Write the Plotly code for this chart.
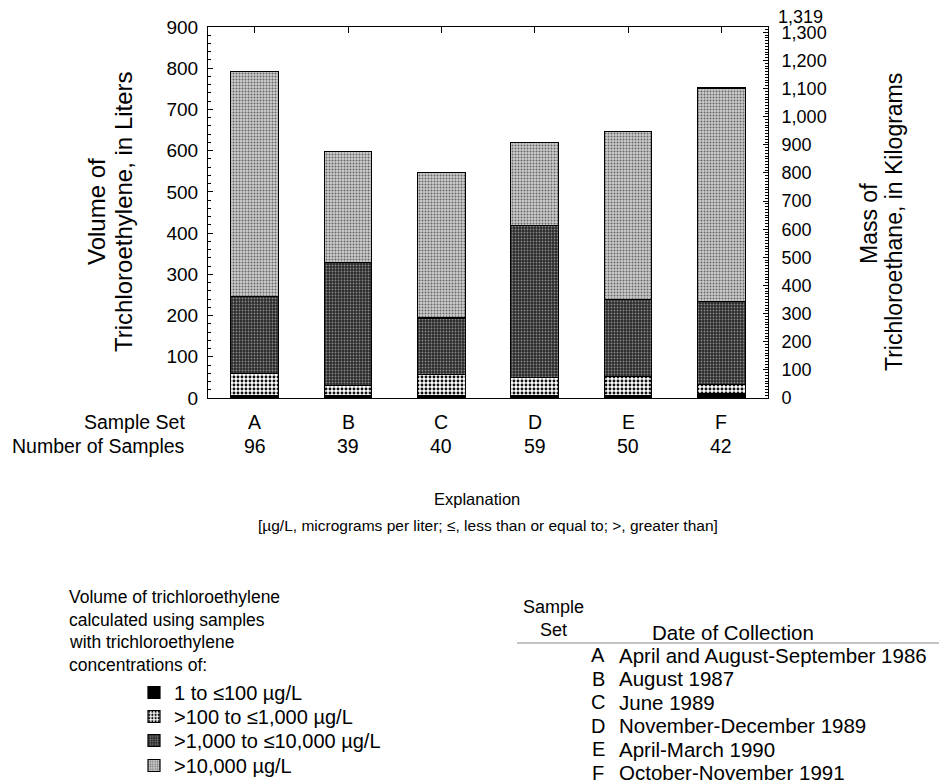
import plotly.graph_objects as go

# ---- data ----
sample_sets = ["A", "B", "C", "D", "E", "F"]
num_samples = [96, 39, 40, 59, 50, 42]
seg_names = ["1 to ≤100 µg/L", ">100 to ≤1,000 µg/L", ">1,000 to ≤10,000 µg/L", ">10,000 µg/L"]
vol_1_100 = [6, 5, 5, 6, 6, 11]
vol_100_1000 = [54, 25, 52, 44, 47, 21]
vol_1000_10000 = [186, 298, 137, 369, 186, 203]
vol_gt_10000 = [547, 270, 353, 200, 407, 517]
density_kg_per_l = 1.4656  # TCE density, links right axis (mass) to left axis (volume)
left_max = 900
dates = ["April and August-September 1986", "August 1987", "June 1989",
         "November-December 1989", "April-March 1990", "October-November 1991"]

FONT = "Liberation Sans, Arial, sans-serif"
OFF = 8                      # page body margin of the html page
W, H = 947 - OFF, 784 - OFF  # figure size so it fits in the window
# plot frame in page pixels
PL, PR, PT, PB = 208, 768, 27, 398


def px(x):
    return (x - PL) / (PR - PL)


def py(y):
    return (PB - y) / (PB - PT)


styles = [
    dict(shape="", fg="black", bg="black", size=4, sol=0.5),
    dict(shape=".", fg="#111111", bg="#ffffff", size=4, sol=0.42),
    dict(shape=".", fg="#8a8a8a", bg="#2a2a2a", size=3, sol=0.3),
    dict(shape=".", fg="#666666", bg="#cdcdcd", size=3, sol=0.35),
]
series = [vol_1_100, vol_100_1000, vol_1000_10000, vol_gt_10000]
legend_ids = ["legend", "legend2", "legend3", "legend4"]
legend_rows = [693, 717, 741, 766]

fig = go.Figure()
for name, vals, st, lg in zip(seg_names, series, styles, legend_ids):
    fig.add_trace(go.Bar(
        x=sample_sets, y=vals, name=name, legend=lg,
        marker=dict(
            color=st["bg"],
            line=dict(color="black", width=1.2),
            pattern=dict(shape=st["shape"], fgcolor=st["fg"], bgcolor=st["bg"],
                         size=st["size"], solidity=st["sol"], fillmode="replace"),
        ),
        width=0.51,
    ))

totals = [a + b + c + d for a, b, c, d in zip(*series)]
mass_totals = [t * density_kg_per_l for t in totals]
for ya in ["y2", "y3"]:
    fig.add_trace(go.Scatter(x=sample_sets, y=mass_totals, xaxis="x2", yaxis=ya,
                             mode="none", showlegend=False, hoverinfo="skip"))

top_mass = round(left_max * density_kg_per_l)
mass_range = [0, left_max * density_kg_per_l]

legends = {}
for lg, row in zip(legend_ids, legend_rows):
    legends[lg] = dict(x=px(134), y=py(row - 20), xanchor="left", yanchor="top",
                       font=dict(size=20, family=FONT), bgcolor="rgba(0,0,0,0)",
                       itemwidth=30)

right_common = dict(range=mass_range, overlaying="y", side="right", anchor="x2",
                    showgrid=False, zeroline=False, ticklabelstandoff=9,
                    ticks="inside", ticklen=5, tickcolor="black",
                    ticklabeloverflow="allow", tickfont=dict(size=18),
                    automargin=False)

fig.update_layout(
    width=W, height=H,
    margin=dict(l=PL - OFF, r=W - (PR - OFF), t=PT - OFF, b=H - (PB - OFF), autoexpand=False),
    paper_bgcolor="white", plot_bgcolor="white",
    barmode="stack",
    font=dict(family=FONT, size=18, color="black"),
    showlegend=True,
    **legends,
    xaxis=dict(type="category", categoryarray=sample_sets, range=[-0.5, 5.5],
               showline=True, linecolor="black", linewidth=1, mirror=True,
               ticks="", showticklabels=False, showgrid=False, zeroline=False,
               automargin=False),
    xaxis2=dict(type="category", categoryarray=sample_sets, range=[-0.5, 5.5],
                overlaying="x", side="top", anchor="y2",
                ticks="inside", ticklen=6, tickcolor="black",
                showticklabels=False, showgrid=False, zeroline=False, showline=False,
                automargin=False),
    yaxis=dict(range=[0, left_max], dtick=100, tick0=0,
               showline=True, linecolor="black", linewidth=1,
               ticks="inside", ticklen=5, tickcolor="black",
               minor=dict(ticks="inside", dtick=20, tick0=0, ticklen=3, tickcolor="black"),
               showgrid=False, zeroline=False, ticklabelstandoff=5,
               tickfont=dict(size=19), automargin=False),
    yaxis2=dict(**right_common, tickmode="linear", tick0=0, dtick=100, tickformat=",d",
                showline=True, linecolor="black", linewidth=1,
                minor=dict(tickmode="linear", ticks="inside", dtick=10, tick0=0,
                           ticklen=3, tickcolor="black")),
    yaxis3=dict(**right_common, tickmode="array", tickvals=[top_mass],
                ticktext=[f"{top_mass:,}"], showline=False, ticklabelshift=-10),
)

ann = []
# axis titles
ann.append(dict(text="Volume of", x=px(96), y=py(212), textangle=-90, font=dict(size=24)))
ann.append(dict(text="Trichloroethylene, in Liters", x=px(123), y=py(212),
                textangle=-90, font=dict(size=24)))
ann.append(dict(text="Mass of", x=px(869), y=py(224), textangle=-90, font=dict(size=23)))
ann.append(dict(text="Trichloroethane, in Kilograms", x=px(894), y=py(222),
                textangle=-90, font=dict(size=23)))
# row labels
ann.append(dict(text="Sample Set", x=px(187), y=py(422), xanchor="right", font=dict(size=19.5)))
ann.append(dict(text="Number of Samples", x=px(187), y=py(446), xanchor="right", font=dict(size=19.5)))
for s, n in zip(sample_sets, num_samples):
    ann.append(dict(text=s, x=s, xref="x", y=py(422), font=dict(size=19.5)))
    ann.append(dict(text=str(n), x=s, xref="x", y=py(446), font=dict(size=19.5)))
# explanation
ann.append(dict(text="Explanation", x=px(477), y=py(499), font=dict(size=16.5)))
ann.append(dict(text="[µg/L, micrograms per liter; ≤, less than or equal to; >, greater than]",
                x=px(488), y=py(525), font=dict(size=15.5)))
left_lines = ["Volume of trichloroethylene", "calculated using samples",
              "with trichloroethylene", "concentrations of:"]
for i, t in enumerate(left_lines):
    ann.append(dict(text=t, x=px(67), y=py(597 + i * 22.7), xanchor="left", font=dict(size=17.5)))
# table
ann.append(dict(text="Sample", x=px(553), y=py(607), font=dict(size=18)))
ann.append(dict(text="Set", x=px(553), y=py(630), font=dict(size=18)))
ann.append(dict(text="Date of Collection", x=px(733), y=py(632), font=dict(size=20.5)))
for i, (s, d) in enumerate(zip(sample_sets, dates)):
    yy = py(655 + i * 23.6)
    ann.append(dict(text=s, x=px(598), y=yy, font=dict(size=20)))
    ann.append(dict(text=d, x=px(617), y=yy, xanchor="left", font=dict(size=20.5)))

for a in ann:
    a.setdefault("xref", "paper")
    a["yref"] = "paper"
    a.setdefault("xanchor", "center")
    a["yanchor"] = "middle"
    a["showarrow"] = False
fig.update_layout(annotations=ann)

fig.add_shape(type="line", xref="paper", yref="paper",
              x0=px(517), x1=px(947), y0=py(643), y1=py(643),
              line=dict(color="#888888", width=1))

fig.write_html("out.html")
